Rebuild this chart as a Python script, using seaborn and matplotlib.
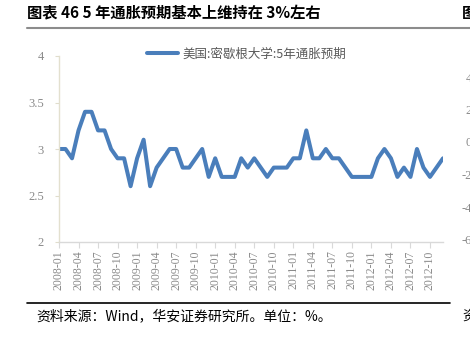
import matplotlib
matplotlib.use("Agg")
import matplotlib.pyplot as plt
from matplotlib.lines import Line2D
import seaborn as sns
import pandas as pd

# ---- data ----
values = [3.0, 3.0, 2.9, 3.2, 3.4, 3.4, 3.2, 3.2, 3.0, 2.9, 2.9, 2.6,
          2.9, 3.1, 2.6, 2.8, 2.9, 3.0, 3.0, 2.8, 2.8, 2.9, 3.0, 2.7,
          2.9, 2.7, 2.7, 2.7, 2.9, 2.8, 2.9, 2.8, 2.7, 2.8, 2.8, 2.8,
          2.9, 2.9, 3.2, 2.9, 2.9, 3.0, 2.9, 2.9, 2.8, 2.7, 2.7, 2.7,
          2.7, 2.9, 3.0, 2.9, 2.7, 2.8, 2.7, 3.0, 2.8, 2.7, 2.8, 2.9]
tick_labels = ["2008-01", "2008-04", "2008-07", "2008-10",
               "2009-01", "2009-04", "2009-07", "2009-10",
               "2010-01", "2010-04", "2010-07", "2010-10",
               "2011-01", "2011-04", "2011-07", "2011-10",
               "2012-01", "2012-04", "2012-07", "2012-10"]
y_ticks = [2, 2.5, 3, 3.5, 4]
y_tick_labels = ["2", "2.5", "3", "3.5", "4"]
series_name = "美国:密歇根大学:5年通胀预期"
title = "图表 46 5 年通胀预期基本上维持在 3%左右"
source = "资料来源：Wind，华安证券研究所。单位：%。"
neighbor_ticks = ["4", "2", "0", "-2", "-4", "-6"]

df = pd.DataFrame({"idx": range(len(values)), "value": values})

sns.set_theme(style="white")
cjk = ["Noto Sans CJK SC", "DejaVu Sans"]
serif = ["Liberation Serif", "DejaVu Serif"]
plt.rcParams["font.family"] = cjk

W, H = 470, 338
fig = plt.figure(figsize=(4.7, 3.38), dpi=100)
fig.patch.set_facecolor("white")

def fx(px):
    return px / W

def fy(py):
    return 1 - py / H

left, right, top, bottom = 59, 443, 56, 242
ax = fig.add_axes([fx(left), fy(bottom), fx(right - left), (bottom - top) / H])
ax.set_facecolor("white")

sns.lineplot(data=df, x="idx", y="value", ax=ax, color="#4A7EBB",
             linewidth=2.9, label=series_name, legend=False)

ax.set_xlim(0, len(values) - 1)
ax.set_ylim(2, 4)
ax.set_xlabel("")
ax.set_ylabel("")

ax.set_xticks(list(range(0, len(values), 3)))
ax.set_xticklabels(tick_labels, rotation=90, family=serif, fontsize=8.5,
                   color="#8a8a8a")
ax.set_yticks(y_ticks)
ax.set_yticklabels(y_tick_labels, family=serif, fontsize=9, color="#8a8a8a")

ax.tick_params(axis="x", which="major", bottom=True, length=4, width=0.8,
               color="#d9d9d9", pad=2)
ax.tick_params(axis="y", which="major", left=True, length=3, width=0.8,
               color="#e0ddcc", pad=8)

for s in ["top", "right"]:
    ax.spines[s].set_visible(False)
ax.spines["left"].set_color("#e3e0cf")
ax.spines["left"].set_linewidth(1.0)
ax.spines["bottom"].set_color("#d9d9d9")
ax.spines["bottom"].set_linewidth(1.0)
ax.grid(False)

handles = [Line2D([0], [0], color="#4A7EBB", linewidth=2.9)]
fig.legend(handles, [series_name], loc="center",
           bbox_to_anchor=(fx(246.5), fy(54)), frameon=False,
           handlelength=2.5, handletextpad=0.4, labelcolor="#595959",
           prop={"family": cjk, "size": 9})

# title and frame lines
fig.text(fx(27), fy(13), title, fontsize=11, fontweight="bold",
         ha="left", va="center", color="black", family=cjk)
fig.text(fx(462), fy(13), "图", fontsize=11, fontweight="bold",
         ha="left", va="center", color="black", family=cjk)
fig.add_artist(Line2D([fx(27), 1.0], [fy(28), fy(28)], color="#8c8c8c",
                      linewidth=1.5, transform=fig.transFigure))
fig.add_artist(Line2D([fx(27), fx(450)], [fy(303), fy(303)], color="black",
                      linewidth=1.2, transform=fig.transFigure))

fig.text(fx(36), fy(316), source, fontsize=10, ha="left", va="center",
         color="black", family=cjk)
fig.text(fx(462), fy(316), "资", fontsize=10, ha="left", va="center",
         color="black", family=cjk)

# neighbouring chart's cut-off axis labels
for lab, py in zip(neighbor_ticks, [79, 111, 143, 176, 209, 241]):
    fig.text(fx(472), fy(py), lab, fontsize=9, ha="right", va="center",
             color="#8a8a8a", family=serif)

fig.savefig("out.png", dpi=100, facecolor="white")
